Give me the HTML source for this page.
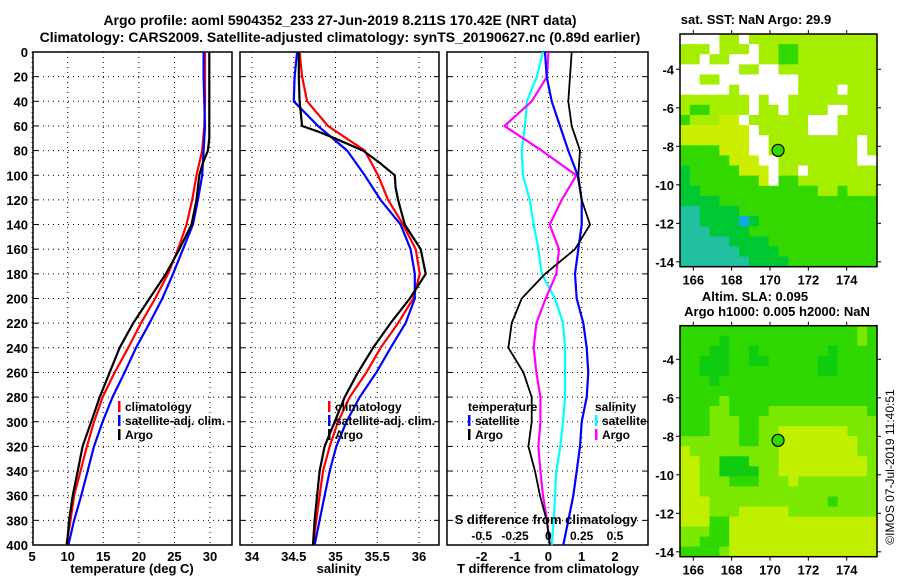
<!DOCTYPE html>
<html><head><meta charset="utf-8"><style>
body{margin:0;background:#fff;}
svg{display:block;font-family:"Liberation Sans",Arial,sans-serif;font-weight:bold;}
</style></head><body>
<svg id="chart" width="900" height="580" viewBox="0 0 900 580">
<text x="340" y="25" font-size="14" text-anchor="middle">Argo profile: aoml 5904352_233 27-Jun-2019 8.211S 170.42E (NRT data)</text>
<text x="340" y="42" font-size="14" text-anchor="middle">Climatology: CARS2009. Satellite-adjusted climatology: synTS_20190627.nc (0.89d earlier)</text>
<g id="p1"></g>
<g id="p2"></g>
<g id="p3"></g>
<g id="m1"></g>
<g id="m2"></g>
<text x="132" y="573" font-size="13" text-anchor="middle">temperature (deg C)</text>
<text x="339" y="573" font-size="13" text-anchor="middle">salinity</text>
<text x="548" y="573" font-size="13" text-anchor="middle">T difference from climatology</text>
<text x="546" y="524" font-size="13" text-anchor="middle">S difference from climatology</text>
<text x="756" y="24" font-size="13" text-anchor="middle">sat. SST: NaN Argo: 29.9</text>
<text x="755" y="301" font-size="13" text-anchor="middle">Altim. SLA: 0.095</text>
<text x="777" y="316" font-size="13" text-anchor="middle">Argo h1000: 0.005 h2000: NaN</text>
<text x="0" y="0" font-size="12" font-weight="normal" text-anchor="middle" transform="translate(894,467) rotate(-90)">©IMOS 07-Jul-2019 11:40:51</text>
</svg>
<script>
// ---- data ----
const depths = [0,20,40,60,80,100,120,140,160,180,200,220,240,260,280,300,320,340,360,380,400];
const tempClim = [29.3,29.3,29.3,29.2,28.9,28.1,27.5,26.7,25.5,24.1,22.3,20.3,18.5,16.6,14.9,13.7,12.7,11.8,10.9,10.4,9.8];
const tempSat  = [29.1,29.1,29.2,29.3,29.1,28.9,28.3,27.6,26.2,24.8,23.3,21.5,19.6,18.0,16.3,14.9,13.7,12.8,11.9,10.9,10.1];
const argoDepths = [0,20,40,60,65,70,80,90,100,110,120,140,160,180,200,220,240,260,280,300,320,340,360,380,400];
const tempArgo = [29.9,29.9,29.9,29.9,29.9,29.9,29.7,29.0,28.5,28.3,28.1,27.4,25.7,23.8,21.5,19.2,17.3,15.9,14.5,13.3,12.1,11.4,10.7,10.2,9.9];
const salClim = [34.57,34.60,34.66,34.91,35.35,35.51,35.63,35.81,35.96,36.01,35.93,35.75,35.54,35.37,35.17,35.03,34.93,34.85,34.81,34.77,34.73];
const salSat  = [34.54,34.51,34.50,34.79,35.14,35.35,35.54,35.78,35.90,35.95,35.95,35.84,35.66,35.49,35.29,35.13,35.01,34.93,34.87,34.81,34.75];
const salArgo = [34.56,34.56,34.57,34.60,34.81,34.99,35.33,35.53,35.71,35.72,35.75,35.83,36.02,36.08,35.89,35.66,35.45,35.27,35.11,34.99,34.87,34.81,34.78,34.75,34.73];
const dTArgo = [0.70,0.65,0.60,0.70,0.95,0.90,1.00,1.25,0.80,-0.10,-0.80,-1.10,-1.20,-0.75,-0.50,-0.50,-0.60,-0.40,-0.25,-0.05,0.05];
const dTSat  = [-0.10,-0.05,0.10,0.35,0.60,0.88,1.00,1.00,0.90,0.80,0.85,1.05,1.15,1.20,1.15,1.00,0.95,0.85,0.75,0.60,0.45];
const dSArgo = [0.0,-0.01,-0.125,-0.33,-0.05,0.21,0.10,0.01,0.08,0.06,-0.02,-0.09,-0.11,-0.09,-0.06,-0.06,-0.075,-0.06,-0.04,-0.01,0.01];
const dSSat  = [-0.04,-0.087,-0.16,-0.175,-0.20,-0.19,-0.14,-0.11,-0.075,-0.05,0.05,0.11,0.125,0.125,0.125,0.11,0.09,0.06,0.05,0.04,0.025];
const depthTicks = [0,20,40,60,80,100,120,140,160,180,200,220,240,260,280,300,320,340,360,380,400];
const tempTicks = [5,10,15,20,25,30];
const salTicks = [34,34.5,35,35.5,36];
const dTTicks = [-2,-1,0,1,2];
const dSTicks = [-0.5,-0.25,0,0.25,0.5];
const dSTickLabels = ['-0.5','-0.25','0','0.25','0.5'];
const sstGrid = [
"WWWWLLWLLLLLLLLLLLLL","LLLWLLLWLLGGLLLLLLLL","LLWLLWWWLLGGLLLLLLLL","WWWWWWLLWWLLLLLLLLLL",
"WWLLWWWWWWWWLLLLLLLL","WWWWWLWWWWWWLLLLWLLL","LLLLLLLWLWWLLLLLLLLL","LGGLLLLWLLWLLLLWWLLL",
"GLLLYYWLLLLLLWWWLLLL","YYYYYYYWLLLLLWWWLLLL","YYYYYYYWWLLLLLLLLLWL","GGGGYYYWWLLLLLLLLLWL",
"GGGGGYYYWWLLLLLLLLWW","DGGGGGYYYWLLWLLLLLLL","DGGGGGGGYWGGLLLLLLLL","DDGGGGGGGGGGGGLLGLLL",
"DDDDGGGGGGGGGGGGGGGG","CCDDDDGGGGGGGGGGGGGG","CCDDDDBDGGGGGGGGGGGG","CCCDDDDGGGGGGGGGGGGG",
"CCCCCDDDDGGGGGGGGGGG","CCCCCCDDDDGGGGGGGGGG","CCCCCCCDDDDGGGGGGGGG"];
const slaGrid = [
"GGGGGGGGGGGGGGGGGGLG","GGGGDGGGGGGGGGGGGGLG","GGGDDGGDGGGGGGGDGGGG","GGDDDGGDDGGGGGDDGGGG",
"GGDDDGGGGGGGGGDDGGGG","GGGDGGGGGGGGGGGGGGGG","GGGGGGGGGGGGGGGGGGGG","GGGGLGGGGGGGGGGGGGGG",
"GGGLLGGGGLLLLLLLLLLG","GGGLLLGGLLLLLLLLLLLL","GGGLLLGGLLYYYYYYYLLL","LLLLLLGGLLYYYYYYYYLL",
"YLLLLLLLLLYYYYYYYYLL","YYLLDDDLLLYYYYYYYYYL","YYLLDDDDLLYYYYYYYYYL","YYLLLGGGLLLYLLLLLLLL",
"YYLLLLLLLLLLLLLLLLLL","YYYLLLLLLLLLLLLGLLLL","YYYLLLYYYYYLLLLLLLLL","YYYGGYYYYYYYYYYYYYYY",
"LLLGGYYYYYYYYYYYYYYY","LLGGGYYYYYYYYYYYYYYY","GGGGLYYYYYYYYYYYYYYY"];
const lonTicks = [166,168,170,172,174];
const latTicks = [-4,-6,-8,-10,-12,-14];
const argoLon = 170.42, argoLat = -8.211;

// ---- drawing ----
const NS='http://www.w3.org/2000/svg';
function mk(parent,tag,attrs,text){const e=document.createElementNS(NS,tag);for(const k in attrs)e.setAttribute(k,attrs[k]);if(text!==undefined)e.textContent=text;parent.appendChild(e);return e;}
const yTop=52,yBot=545;
const yOf=d=>yTop+d*(yBot-yTop)/400;
function lin(d0,d1,r0,r1){return v=>r0+(v-d0)*(r1-r0)/(d1-d0);}
const panels=[
 {g:'p1',x0:33,x1:232,sx:lin(10,30,67.7,210)},
 {g:'p2',x0:240,x1:439,sx:lin(34,36,252,419)},
 {g:'p3',x0:447,x1:648,sx:lin(-2,2,481.7,615)}];
function frame(p,ticks,labels,showY){
 const g=document.getElementById(p.g);
 depthTicks.forEach(d=>{const y=yOf(d);
  if(d>0&&d<400){const l=mk(g,'line',{x1:p.x0,x2:p.x1,y1:y,y2:y,stroke:'#000','stroke-width':1,'stroke-dasharray':'1,4'});
   mk(g,'line',{x1:p.x0,x2:p.x0+5,y1:y,y2:y,stroke:'#000'});mk(g,'line',{x1:p.x1-5,x2:p.x1,y1:y,y2:y,stroke:'#000'});}
  if(showY){const t=mk(g,'text',{x:28,y:y+5,'font-size':13,'text-anchor':'end'},String(d));}
 });
 ticks.forEach((v,i)=>{const x=p.sx(v);
  const l=mk(g,'line',{x1:x,x2:x,y1:yTop,y2:yBot,stroke:'#000','stroke-width':1,'stroke-dasharray':'1,4'});
  const t=mk(g,'text',{x:x,y:561,'font-size':13,'text-anchor':'middle'},labels[i]);
 });
 const r=mk(g,'rect',{x:p.x0,y:yTop,width:p.x1-p.x0,height:yBot-yTop,fill:'none',stroke:'#000','stroke-width':1.5});
 
 return g;
}
function series(g,sx,xs,ds,color,name,w){
 const pts=xs.map((v,i)=>sx(v).toFixed(1)+','+yOf(ds[i]).toFixed(1)).join(' ');
 const pl=mk(g,'polyline',{points:pts,fill:'none',stroke:color,'stroke-width':w||2.2,'stroke-linejoin':'round'});
 
}
function legend(g,x,y,items){
 items.forEach((it,i)=>{
  if(it[0])mk(g,'rect',{x:x,y:y+i*14-10,width:2.5,height:11,fill:it[0]});
  const t=mk(g,'text',{x:x+(it[0]?7:0),y:y+i*14,'font-size':12},it[1]);
  
 });
}
let g=frame(panels[0],tempTicks,tempTicks.map(String),true);
series(g,panels[0].sx,tempClim,depths,'#f00','temp-climatology-line');
series(g,panels[0].sx,tempSat,depths,'#00f','temp-satellite-line');
series(g,panels[0].sx,tempArgo,argoDepths,'#000','temp-argo-line');
legend(g,118,411,[['#f00','climatology'],['#00f','satellite-adj. clim.'],['#000','Argo']]);
g=frame(panels[1],salTicks,salTicks.map(String),false);
series(g,panels[1].sx,salClim,depths,'#f00','sal-climatology-line');
series(g,panels[1].sx,salSat,depths,'#00f','sal-satellite-line');
series(g,panels[1].sx,salArgo,argoDepths,'#000','sal-argo-line');
legend(g,328,411,[['#f00','climatology'],['#00f','satellite-adj. clim.'],['#000','Argo']]);
g=frame(panels[2],dTTicks,dTTicks.map(String),false);
const sS=lin(-0.5,0.5,481.7,615);
series(g,sS,dSSat,depths,'#0ff','s-diff-satellite-line');
series(g,sS,dSArgo,depths,'#f0f','s-diff-argo-line');
series(g,panels[2].sx,dTSat,depths,'#00f','t-diff-satellite-line');
series(g,panels[2].sx,dTArgo,depths,'#000','t-diff-argo-line',1.8);
legend(g,468,411,[[null,'temperature'],['#00f','satellite'],['#000','Argo']]);
legend(g,595,411,[[null,'salinity'],['#0ff','satellite'],['#f0f','Argo']]);
dSTicks.forEach((v,i)=>{const t=mk(g,'text',{x:sS(v),y:540,'font-size':12,'text-anchor':'middle'},dSTickLabels[i]);});
const sstCol={W:'#fff',L:'#a6ee00',Y:'#ccee00',G:'#33d800',D:'#00c832',C:'#20c0a0',B:'#10a8e8'};
const slaCol={G:'#2ed800',D:'#10cc10',L:'#7ae800',Y:'#c0f000'};
function map(id,grid,cols,top,bot,lat4y){
 const mg=document.getElementById(id);
 const x0=680,x1=877,nr=grid.length,nc=grid[0].length;
 const cw=(x1-x0)/nc,ch=(bot-top)/nr;
 grid.forEach((row,r)=>{[...row].forEach((c,k)=>{mk(mg,'rect',{x:(x0+k*cw).toFixed(2),y:(top+r*ch).toFixed(2),width:(cw+0.6).toFixed(2),height:(ch+0.6).toFixed(2),fill:cols[c]});});});
 const lx=lin(166,174,693.3,846.7), ly=v=>lat4y+(-4-v)*19.25;
 const fr=mk(mg,'rect',{x:x0,y:top,width:x1-x0,height:bot-top,fill:'none',stroke:'#000','stroke-width':1.5});
 
 lonTicks.forEach(v=>{const x=lx(v);mk(mg,'line',{x1:x,x2:x,y1:top-4,y2:top,stroke:'#000'});mk(mg,'line',{x1:x,x2:x,y1:bot,y2:bot+4,stroke:'#000'});
  const t=mk(mg,'text',{x:x,y:bot+18,'font-size':13,'text-anchor':'middle'},String(v));});
 latTicks.forEach(v=>{const y=ly(v);mk(mg,'line',{x1:x0-4,x2:x0,y1:y,y2:y,stroke:'#000'});mk(mg,'line',{x1:x1,x2:x1+4,y1:y,y2:y,stroke:'#000'});
  const t=mk(mg,'text',{x:x0-6,y:y+5,'font-size':13,'text-anchor':'end'},String(v));});
 const c=mk(mg,'circle',{cx:lx(argoLon),cy:ly(argoLat),r:6,fill:cols.G,stroke:'#000','stroke-width':1.2});
 
}
map('m1',sstGrid,sstCol,34,266.7,69.3);
map('m2',slaGrid,slaCol,325.7,556.7,359.3);
</script>
</body></html>
